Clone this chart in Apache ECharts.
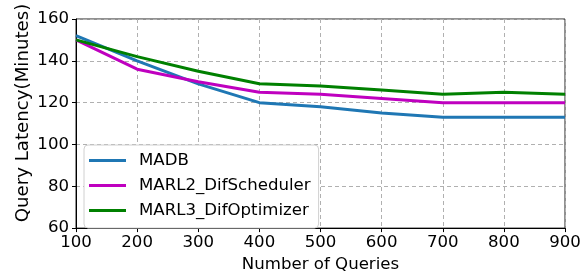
<!DOCTYPE html>
<html>
<head>
<meta charset="utf-8">
<script src="https://cdn.jsdelivr.net/npm/echarts@6/dist/echarts.min.js"></script>
<style>
  html, body { margin: 0; padding: 0; background: #fff; }
  #chart { width: 588px; height: 278px; }
</style>
</head>
<body>
<div id="chart"></div>
<script>
// number of queries on the x axis
var queries = [100, 200, 300, 400, 500, 600, 700, 800, 900];
// latency in minutes
var madb = [152, 140, 129, 120, 118, 115, 113, 113, 113];
var marl2 = [150, 136, 130, 125, 124, 122, 120, 120, 120];
var marl3 = [150, 142, 135, 129, 128, 126, 124, 125, 124];
var seriesNames = ['MADB', 'MARL2_DifScheduler', 'MARL3_DifOptimizer'];
var seriesColors = ['#1f77b4', '#bf00bf', '#008000'];

var font = 'DejaVu Sans';
var fs = 16.6;

function pairs(ys) {
    return queries.map(function (q, i) { return [q, ys[i]]; });
}

var chart = echarts.init(document.getElementById('chart'), null, { renderer: 'canvas' });

var option = {
    backgroundColor: '#fff',
    animation: false,
    grid: {
        left: 76, right: 23, top: 19, bottom: 44,
        show: true, borderColor: '#222', borderWidth: 1
    },
    // y title is placed by hand, matplotlib puts it a bit above center
    graphic: [{
        type: 'text',
        x: 23, y: 113,
        rotation: Math.PI / 2,
        style: {
            text: 'Query Latency(Minutes)',
            font: '18.2px "' + font + '"',
            fill: '#000',
            textAlign: 'center',
            textVerticalAlign: 'middle'
        }
    }],
    legend: {
        orient: 'vertical',
        left: 84, top: 145,
        padding: [7, 8, 9, 5],
        backgroundColor: '#fff',
        borderColor: '#d0d0d0',
        borderWidth: 1,
        borderRadius: 4,
        itemWidth: 37,
        itemHeight: 3,
        itemGap: 8,
        icon: 'rect',
        textStyle: { fontFamily: font, fontSize: fs, color: '#000', lineHeight: 17, padding: [0, 0, 0, 8] },
        data: seriesNames
    },
    xAxis: {
        type: 'value',
        min: 100, max: 900, interval: 100,
        name: 'Number of Queries',
        nameLocation: 'middle',
        nameGap: 27,
        nameTextStyle: { fontFamily: font, fontSize: fs, color: '#000' },
        axisLine: { lineStyle: { color: '#000', width: 1 } },
        axisTick: { show: true, length: 4, lineStyle: { color: '#000' } },
        axisLabel: { fontFamily: font, fontSize: fs, color: '#000', margin: 6 },
        splitLine: { show: true, lineStyle: { color: '#b0b0b0', type: [4, 3], width: 1 } }
    },
    yAxis: {
        type: 'value',
        min: 60, max: 160, interval: 20,
        axisLine: { show: true, lineStyle: { color: '#000', width: 1 } },
        axisTick: { show: true, length: 4, lineStyle: { color: '#000' } },
        axisLabel: { fontFamily: font, fontSize: fs, color: '#000', margin: 7 },
        splitLine: { show: true, lineStyle: { color: '#b0b0b0', type: [4, 3], width: 1 } }
    },
    series: [madb, marl2, marl3].map(function (ys, i) {
        return {
            name: seriesNames[i],
            type: 'line',
            data: pairs(ys),
            showSymbol: false,
            symbol: 'none',
            color: seriesColors[i],
            lineStyle: { width: 3, color: seriesColors[i] }
        };
    })
};

chart.setOption(option);
</script>
</body>
</html>
